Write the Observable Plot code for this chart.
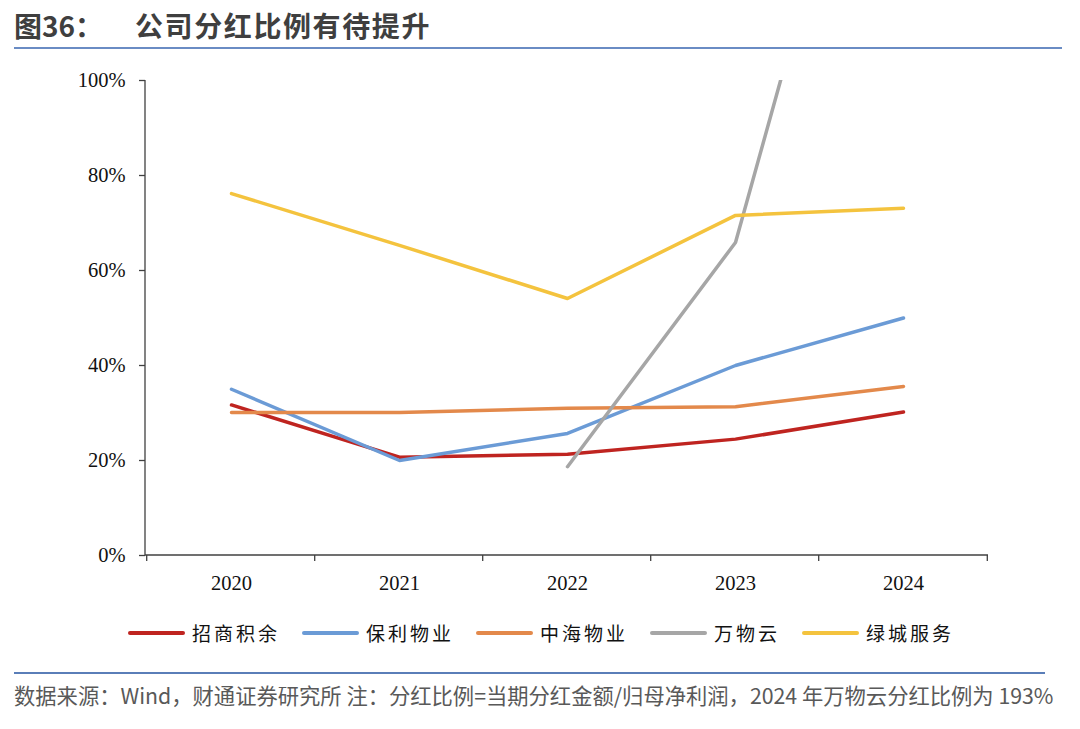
<!DOCTYPE html>
<html><head><meta charset="utf-8">
<script src="https://cdn.jsdelivr.net/npm/d3@7"></script>
<script src="https://cdn.jsdelivr.net/npm/@observablehq/plot@0.6"></script>
<style>
body{margin:0;background:#fff;width:1080px;height:729px;position:relative;overflow:hidden;font-family:"Noto Sans CJK SC","Noto Sans",sans-serif;}
.abs{position:absolute;}
#t1,#t2{top:11px;font-size:28px;line-height:28px;font-weight:bold;color:#3f3f3f;white-space:nowrap;}
#t1{left:14px;}
#t2{left:135px;letter-spacing:1.6px;}
#tline{left:14px;top:47px;width:1048px;height:2px;background:#6a8cc4;}
#chart{left:0;top:60px;}
#legend{left:128px;top:618px;height:30px;display:flex;align-items:center;}
.sw{display:inline-block;width:57px;height:4px;border-radius:2px;margin-right:7px;}
.lt{font-size:19px;line-height:30px;letter-spacing:3px;color:#111;margin-right:22px;white-space:nowrap;}
#fline{left:14px;top:672px;width:1031px;height:2px;background:#5a7eb8;}
#foot{left:14px;top:684px;font-size:21.3px;line-height:22px;color:#595959;white-space:nowrap;}
</style></head>
<body>
<div id="t1" class="abs">图36：</div>
<div id="t2" class="abs">公司分红比例有待提升</div>
<div id="tline" class="abs"></div>
<div id="chart" class="abs"></div>
<div id="legend" class="abs"></div>
<div id="fline" class="abs"></div>
<div id="foot" class="abs">数据来源：Wind，财通证券研究所 注：分红比例=当期分红金额/归母净利润，2024 年万物云分红比例为 193%</div>
<script>
const years = ["2020","2021","2022","2023","2024"];
const seriesNames = ["招商积余","保利物业","中海物业","万物云","绿城服务"];
const zhaoshang = [0.317,0.207,0.213,0.245,0.302];
const baoli = [0.350,0.200,0.257,0.400,0.500];
const zhonghai = [0.301,0.301,0.310,0.313,0.356];
const wanwu = [null,null,0.187,0.659,1.93];
const lvcheng = [0.762,0.653,0.541,0.716,0.731];
const colors = ["#bf2420","#6b9bd6","#e3894b","#a6a6a6","#f4c33e"];
const yTicks = [0,0.2,0.4,0.6,0.8,1];

const allValues = [zhaoshang,baoli,zhonghai,wanwu,lvcheng];
const rows = [];
seriesNames.forEach((s,i)=>{
  years.forEach((yr,j)=>{
    const v = allValues[i][j];
    if (v !== null) rows.push({series:s, year:yr, value:v});
  });
});

const serif = "'Liberation Serif','DejaVu Serif',serif";

function axisLines(index, scales, values, dims) {
  const {x, y} = scales;
  const g = d3.create("svg:g").attr("stroke","#404040").attr("stroke-width",1.3).attr("fill","none");
  const left = dims.marginLeft, right = dims.width - dims.marginRight;
  g.append("line").attr("x1",left).attr("x2",left).attr("y1",y(0)).attr("y2",y(1));
  g.append("line").attr("x1",left).attr("x2",right).attr("y1",y(0)).attr("y2",y(0));
  const step = (right - left)/years.length;
  const edges = years.map(v=>x(v)-step/2).concat([x(years[years.length-1])+step/2]);
  for (const e of edges) g.append("line").attr("x1",e).attr("x2",e).attr("y1",y(0)).attr("y2",y(0)+6);
  return g.node();
}

const plot = Plot.plot({
  width:1080, height:540,
  marginTop:20, marginBottom:45, marginLeft:145, marginRight:92,
  style:{fontFamily:serif, fontSize:"20px", background:"transparent"},
  x:{type:"point", domain:years, padding:0.5},
  y:{domain:[0,1]},
  color:{domain:seriesNames, range:colors},
  marks:[
    axisLines,
    Plot.axisY({ticks:yTicks, tickFormat:d=>Math.round(d*100)+"%", tickSize:6, tickPadding:14, fontSize:20.5, fontFamily:serif, stroke:"#404040", strokeWidth:1.3, fill:"#111", label:null}),
    Plot.axisX({tickSize:0, tickPadding:20, fontSize:20.5, fontFamily:serif, fill:"#111", label:null}),
    Plot.line(rows, {x:"year", y:"value", z:"series", stroke:"series", strokeWidth:3.5, strokeLinejoin:"round", clip:true})
  ]
});
document.getElementById("chart").appendChild(plot);

const lg = document.getElementById("legend");
seriesNames.forEach((s,i)=>{
  const sw = document.createElement("span"); sw.className="sw"; sw.style.background=colors[i];
  const t = document.createElement("span"); t.className="lt"; t.textContent=s;
  lg.appendChild(sw); lg.appendChild(t);
});
</script>
</body></html>
